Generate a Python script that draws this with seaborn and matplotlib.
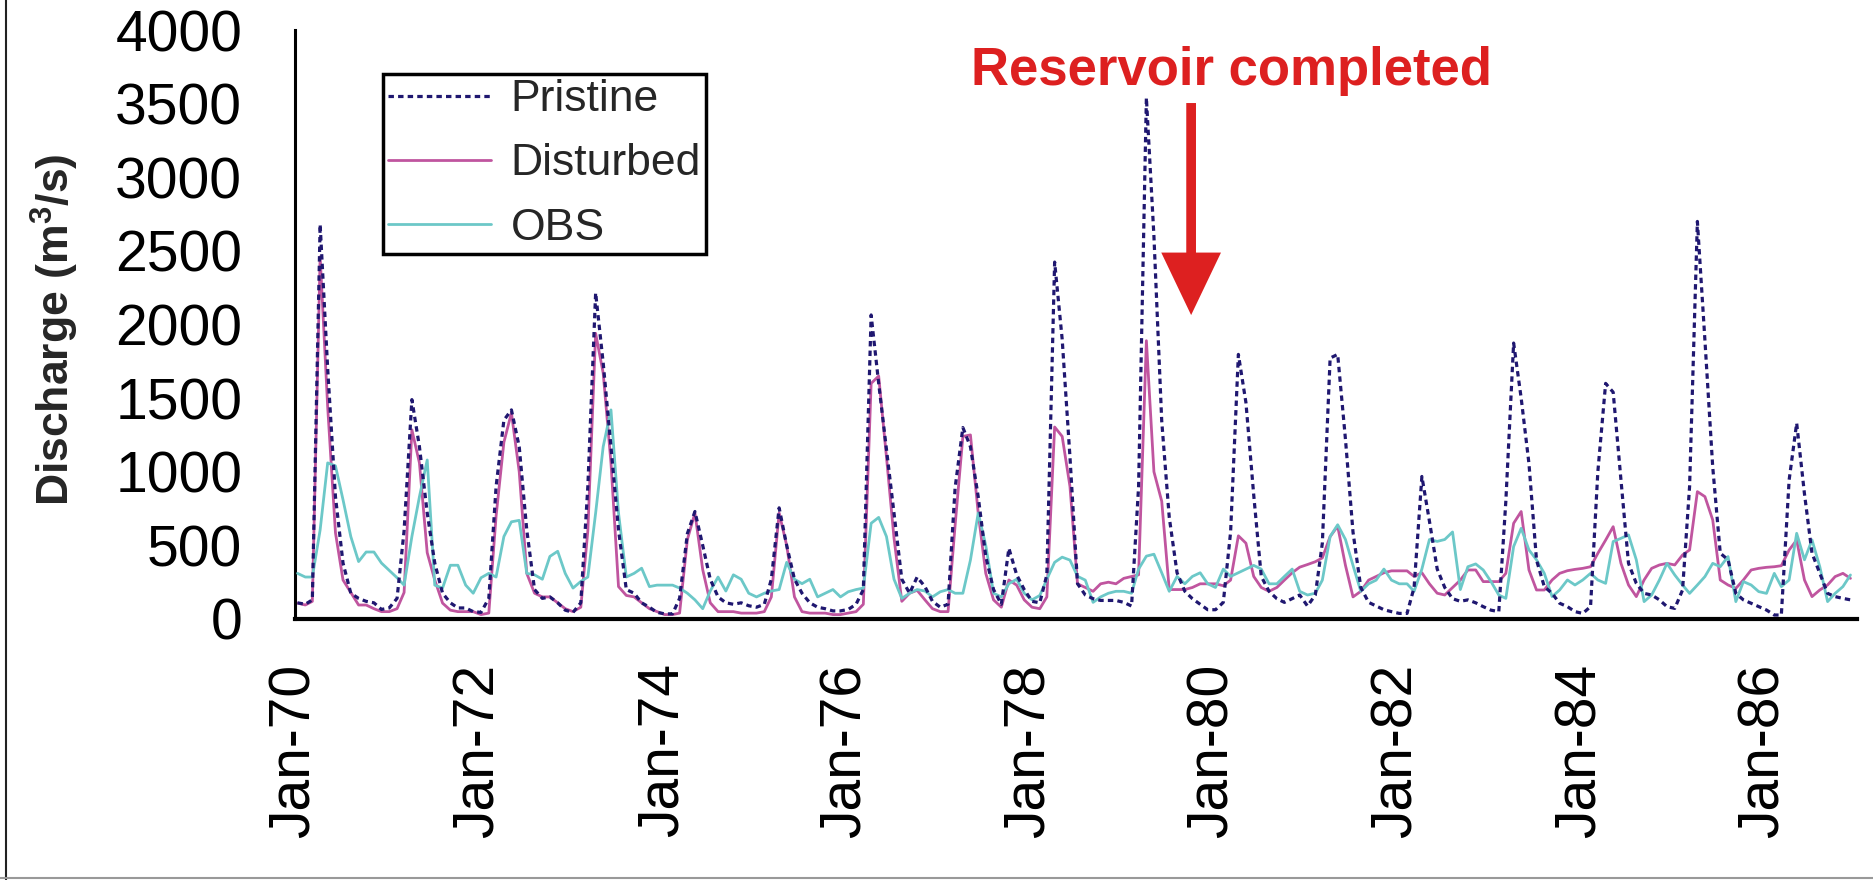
import pandas as pd
import matplotlib.pyplot as plt
import seaborn as sns
from matplotlib.lines import Line2D

# monthly discharge (m3/s), Jan 1970 - Dec 1986
pristine = [
    110, 100, 130, 2680, 1700, 830, 380, 175, 140, 120, 110, 65,      # 1970
    75, 140, 600, 1490, 1170, 720, 380, 175, 110, 75, 75, 50,         # 1971
    45, 140, 900, 1350, 1420, 1170, 605, 200, 140, 150, 110, 60,      # 1972
    45, 110, 900, 2215, 1740, 1170, 605, 200, 175, 110, 80, 45,       # 1973
    35, 35, 140, 580, 730, 500, 270, 150, 110, 100, 110, 90,          # 1974
    80, 100, 270, 755, 500, 270, 175, 110, 80, 70, 55, 55,            # 1975
    65, 100, 200, 2065, 1600, 1150, 720, 270, 175, 285, 220, 120,     # 1976
    80, 100, 890, 1300, 1170, 830, 425, 200, 100, 480, 300, 200,      # 1977
    120, 110, 300, 2424, 1900, 1100, 240, 163, 138, 126, 126, 126,    # 1978
    113, 88, 900, 3540, 2600, 1345, 690, 314, 188, 138, 100, 63,      # 1979
    63, 113, 590, 1797, 1470, 842, 289, 188, 138, 113, 138, 163,      # 1980
    88, 163, 515, 1772, 1797, 1220, 590, 214, 113, 88, 63, 50,        # 1981
    38, 38, 214, 968, 665, 339, 214, 138, 120, 130, 110, 84,          # 1982
    60, 50, 800, 1874, 1500, 1055, 400, 220, 174, 107, 84, 50,        # 1983
    38, 84, 1000, 1600, 1540, 944, 378, 242, 174, 163, 130, 84,       # 1984
    72, 197, 900, 2700, 1893, 1033, 447, 402, 174, 130, 107, 84,      # 1985
    61, 27, 27, 944, 1330, 850, 447, 310, 174, 152, 140, 130,         # 1986
]

disturbed = [
    108, 95, 120, 2460, 1440, 585, 265, 180, 95, 95, 70, 50,          # 1970
    50, 70, 180, 1285, 1060, 450, 265, 108, 60, 50, 50, 50,           # 1971
    30, 40, 700, 1200, 1400, 1000, 310, 175, 150, 150, 110, 70,       # 1972
    50, 80, 600, 1940, 1670, 1060, 220, 160, 150, 110, 70, 50,        # 1973
    30, 30, 40, 540, 720, 335, 110, 50, 50, 50, 40, 40,               # 1974
    40, 50, 150, 720, 500, 150, 50, 40, 40, 40, 30, 30,               # 1975
    40, 50, 100, 1600, 1650, 1100, 550, 120, 175, 195, 130, 70,       # 1976
    50, 50, 635, 1240, 1250, 720, 310, 130, 80, 265, 230, 130,        # 1977
    80, 70, 150, 1304, 1240, 900, 239, 214, 188, 239, 250, 239,       # 1978
    276, 289, 300, 1890, 1000, 800, 200, 200, 200, 214, 239, 239,     # 1979
    239, 226, 264, 565, 515, 289, 214, 188, 214, 264, 314, 352,       # 1980
    370, 389, 415, 560, 630, 364, 150, 188, 264, 289, 314, 327,       # 1981
    327, 327, 289, 314, 239, 175, 163, 214, 264, 333, 333, 254,       # 1982
    254, 254, 310, 650, 730, 333, 197, 197, 265, 310, 328, 337,       # 1983
    344, 355, 446, 536, 627, 378, 231, 152, 265, 344, 367, 378,       # 1984
    367, 435, 469, 865, 831, 673, 265, 231, 208, 265, 333, 344,       # 1985
    351, 355, 362, 469, 536, 265, 152, 197, 231, 288, 310, 276,       # 1986
]

obs = [
    310, 285, 285, 605, 1060, 1040, 810, 560, 390, 455, 455, 380,     # 1970
    330, 280, 230, 560, 830, 1080, 230, 210, 365, 365, 230, 175,      # 1971
    280, 310, 285, 560, 660, 670, 310, 300, 270, 425, 460, 310,       # 1972
    210, 255, 285, 720, 1170, 1420, 720, 285, 310, 345, 220, 230,     # 1973
    230, 230, 210, 175, 130, 70, 190, 285, 190, 300, 270, 175,        # 1974
    150, 175, 190, 200, 385, 270, 240, 270, 150, 175, 200, 150,       # 1975
    185, 200, 210, 650, 690, 560, 270, 140, 175, 200, 190, 150,       # 1976
    185, 200, 175, 175, 400, 720, 500, 175, 150, 240, 270, 175,       # 1977
    130, 160, 270, 385, 420, 400, 290, 264, 113, 150, 175, 188,       # 1978
    188, 175, 339, 427, 440, 314, 188, 289, 239, 289, 314, 239,       # 1979
    214, 339, 289, 314, 339, 364, 339, 239, 239, 289, 339, 188,       # 1980
    163, 175, 264, 560, 640, 540, 364, 188, 239, 264, 339, 264,       # 1981
    239, 239, 188, 339, 540, 527, 540, 591, 200, 355, 374, 333,       # 1982
    254, 163, 140, 492, 616, 469, 402, 310, 152, 197, 265, 231,       # 1983
    265, 310, 265, 242, 526, 548, 571, 402, 118, 163, 265, 378,       # 1984
    299, 231, 174, 231, 288, 378, 355, 424, 118, 254, 231, 186,       # 1985
    174, 310, 220, 265, 582, 402, 537, 355, 118, 174, 220, 299,       # 1986
]

tick_years = [1970, 1972, 1974, 1976, 1978, 1980, 1982, 1984, 1986]
tick_labels = ['Jan-70', 'Jan-72', 'Jan-74', 'Jan-76', 'Jan-78',
               'Jan-80', 'Jan-82', 'Jan-84', 'Jan-86']

# reservoir annotation
event_date = pd.Timestamp('1979-10-06')
text_date = pd.Timestamp('1980-03-13')

dates = pd.date_range('1970-01-01', periods=len(pristine), freq='MS') + pd.Timedelta(days=10)
df = pd.DataFrame({'date': dates, 'Pristine': pristine,
                   'Disturbed': disturbed, 'OBS': obs})

sns.set_style('white')
plt.rcParams['font.family'] = ['Liberation Sans', 'DejaVu Sans']
plt.rcParams['mathtext.fontset'] = 'custom'
plt.rcParams['mathtext.rm'] = 'Liberation Sans'
plt.rcParams['mathtext.bf'] = 'Liberation Sans:bold'

fig = plt.figure(figsize=(18.73, 8.8), dpi=100)
ax = fig.add_axes([295 / 1873, 1 - 619 / 880, (1857 - 295) / 1873, (619 - 30) / 880])

sns.lineplot(data=df, x='date', y='Disturbed', ax=ax, color='#c0559f', lw=2.0, zorder=2)
sns.lineplot(data=df, x='date', y='OBS', ax=ax, color='#6cc8c8', lw=2.0, zorder=3)
sns.lineplot(data=df, x='date', y='Pristine', ax=ax, color='#1f1770', lw=2.3,
             linestyle=(0, (1.7, 1.3)), zorder=4)

ax.set_xlim(pd.Timestamp('1970-01-01'), pd.Timestamp('1987-01-06'))
ax.set_ylim(0, 4000)
ax.set_yticks(range(0, 4001, 500))
ax.set_xticks([pd.Timestamp(f'{y}-01-01') for y in tick_years])
ax.set_xticklabels(tick_labels, rotation=90)
ax.set_xlabel('')
ax.set_ylabel('')

ax.tick_params(axis='both', direction='out', length=14, width=2, labelsize=41,
               color='black', labelcolor='black')
ax.tick_params(axis='y', pad=24)
ax.tick_params(axis='x', pad=18)
for side in ['top', 'right']:
    ax.spines[side].set_visible(False)
ax.spines['left'].set_color('black')
ax.spines['left'].set_linewidth(2.2)
ax.spines['bottom'].set_color('black')
ax.spines['bottom'].set_linewidth(3.0)

fig.text(55 / 1873, 1 - 330 / 880, r'Discharge (m$^\mathbf{3}$/s)', rotation=90,
         ha='center', va='center', fontsize=32, fontweight='bold')

# legend in Pristine / Disturbed / OBS order
lines = ax.lines
handles = [lines[2], lines[0], lines[1]]
leg = ax.legend(handles, ['Pristine', 'Disturbed', 'OBS'], loc='upper left',
                bbox_to_anchor=(383 / 1873, 1 - 74 / 880), bbox_transform=fig.transFigure,
                fontsize=32, frameon=True, fancybox=False, framealpha=1,
                edgecolor='black', borderpad=0.12, labelspacing=0.52,
                handlelength=2.3, handletextpad=0.45, borderaxespad=0)
leg.get_frame().set_linewidth(2.5)

ax.annotate('', xy=(event_date, 2064), xytext=(event_date, 3504),
            arrowprops=dict(facecolor='#dd2020', edgecolor='none', width=7,
                            headwidth=43, headlength=45, shrink=0))
ax.text(text_date, 3626, 'Reservoir completed', color='#dd2020', fontsize=38,
        fontweight='bold', ha='center', va='baseline')

# frame around the picture
fig.add_artist(Line2D([6 / 1873, 6 / 1873], [0, 1], transform=fig.transFigure,
                      color='#222222', lw=1.5))
fig.add_artist(Line2D([0, 1], [2 / 880, 2 / 880], transform=fig.transFigure,
                      color='#999999', lw=1.5))

fig.savefig('out.png', dpi=100)
